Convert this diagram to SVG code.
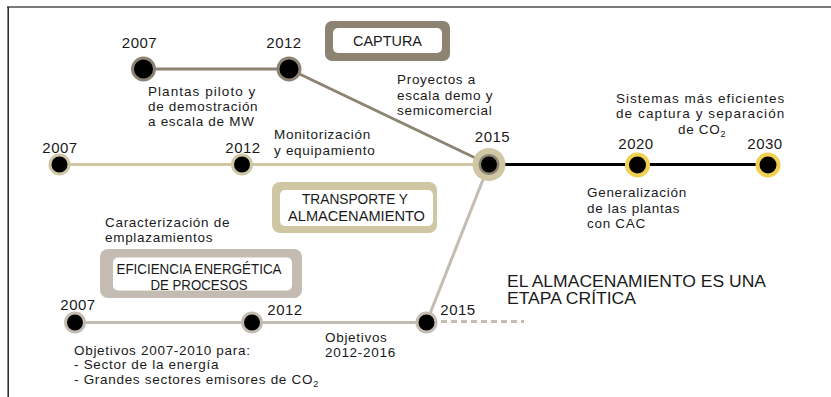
<svg xmlns="http://www.w3.org/2000/svg" width="831" height="397" viewBox="0 0 831 397">
<style>
text{font-family:"Liberation Sans",Arial,sans-serif;fill:#1a1a1a}
.yr{font-size:15px;letter-spacing:0.5px;text-anchor:middle}
.b{font-size:13.5px;letter-spacing:0.7px}
.t{font-size:15.5px;text-anchor:middle}
.big{font-size:16px}
.sub{font-size:9px}
.cap{stroke:#8c8373}
.tra{stroke:#cfc7a4}
.efi{stroke:#c4bcb2}
.node{fill:#000;stroke-width:3}
</style>
<rect width="831" height="397" fill="#fff"/>
<g id="frame">
<line x1="7" y1="7" x2="831" y2="7" stroke="#7a7a7a" stroke-width="2"/>
<line x1="8.2" y1="7" x2="8.2" y2="397" stroke="#222" stroke-width="1.5"/>
</g>
<g id="connectors" fill="none" stroke-width="3">
<line class="cap" x1="143.5" y1="69" x2="289" y2="69"/>
<line class="cap" x1="289" y1="69" x2="489" y2="164.5"/>
<line class="tra" x1="59.5" y1="164.5" x2="489" y2="164.5"/>
<line stroke="#000" x1="489" y1="164.5" x2="768" y2="164.5"/>
<line class="efi" x1="75" y1="322.5" x2="426.5" y2="322.5"/>
<line class="efi" x1="426.5" y1="322.5" x2="489" y2="164.5"/>
<line class="efi" x1="441" y1="321.5" x2="524" y2="321.5" stroke-dasharray="6 4"/>
</g>
<g id="box-captura">
<rect x="325" y="21" width="125" height="40" rx="7" fill="#8c8373"/>
<rect x="333" y="28" width="109" height="25" rx="5" fill="#fff"/>
<text class="t" x="387.5" y="46" textLength="69" lengthAdjust="spacingAndGlyphs">CAPTURA</text>
</g>
<g id="box-transporte">
<rect x="272" y="182" width="165" height="51" rx="8" fill="#cfc7a4"/>
<rect x="280" y="190" width="153" height="36" rx="5" fill="#fff"/>
<text class="t" x="355" y="204" textLength="106" lengthAdjust="spacingAndGlyphs">TRANSPORTE Y</text>
<text class="t" x="356.5" y="221" textLength="137" lengthAdjust="spacingAndGlyphs">ALMACENAMIENTO</text>
</g>
<g id="box-eficiencia">
<rect x="100" y="249" width="202" height="49" rx="8" fill="#c4bcb2"/>
<rect x="113" y="257.5" width="179" height="33" rx="5" fill="#fff"/>
<text class="t" x="199" y="274" textLength="165" lengthAdjust="spacingAndGlyphs">EFICIENCIA ENERGÉTICA</text>
<text class="t" x="199" y="290" textLength="97" lengthAdjust="spacingAndGlyphs">DE PROCESOS</text>
</g>
<g id="node-cap-2007">
<circle class="node cap" cx="143.5" cy="69" r="11"/>
<text class="yr" x="139.5" y="48">2007</text>
</g>
<g id="node-cap-2012">
<circle class="node cap" cx="289" cy="69" r="11"/>
<text class="yr" x="284" y="48">2012</text>
</g>
<g id="node-tra-2007">
<circle class="node tra" cx="59.5" cy="164.5" r="9.5"/>
<text class="yr" x="60" y="153">2007</text>
</g>
<g id="node-tra-2012">
<circle class="node tra" cx="242" cy="164.5" r="9.5"/>
<text class="yr" x="243" y="153">2012</text>
</g>
<g id="node-2015">
<circle cx="489" cy="164.5" r="16.5" fill="#cfc7a4"/>
<circle cx="489" cy="164.5" r="10.5" fill="#8c8373"/>
<circle cx="489" cy="164.5" r="8" fill="#000"/>
<text class="yr" x="492.5" y="141.5">2015</text>
</g>
<g id="node-2020">
<circle cx="637.5" cy="165" r="10.5" fill="#000" stroke="#f0d050" stroke-width="4"/>
<text class="yr" x="636" y="148.5">2020</text>
</g>
<g id="node-2030">
<circle cx="768" cy="165" r="10.5" fill="#000" stroke="#f0d050" stroke-width="4"/>
<text class="yr" x="765" y="148.5">2030</text>
</g>
<g id="node-efi-2007">
<circle class="node efi" cx="75" cy="322.5" r="9.5"/>
<text class="yr" x="78" y="310">2007</text>
</g>
<g id="node-efi-2012">
<circle class="node efi" cx="252" cy="322.5" r="9.5"/>
<text class="yr" x="285" y="315">2012</text>
</g>
<g id="node-efi-2015">
<circle class="node efi" cx="426.5" cy="322.5" r="9.5"/>
<text class="yr" x="458" y="315">2015</text>
</g>
<g id="labels">
<text class="b" x="148" y="95.5" textLength="108" lengthAdjust="spacing">Plantas piloto y</text>
<text class="b" x="148" y="111">de demostración</text>
<text class="b" x="148" y="126">a escala de MW</text>
<text class="b" x="397" y="84">Proyectos a</text>
<text class="b" x="397" y="99.5">escala demo y</text>
<text class="b" x="397" y="115">semicomercial</text>
<text class="b" x="616" y="102.5" textLength="169" lengthAdjust="spacing">Sistemas más eficientes</text>
<text class="b" x="616" y="118" textLength="169" lengthAdjust="spacing">de captura y separación</text>
<text class="b" x="678" y="133.5">de CO<tspan class="sub" dy="3">2</tspan></text>
<text class="b" x="274" y="138.5">Monitorización</text>
<text class="b" x="274" y="154.5">y equipamiento</text>
<text class="b" x="587" y="197">Generalización</text>
<text class="b" x="587" y="212.5">de las plantas</text>
<text class="b" x="587" y="228">con CAC</text>
<text class="b" x="105" y="226.5">Caracterización de</text>
<text class="b" x="105" y="241.5">emplazamientos</text>
<text class="b" x="325" y="341.5">Objetivos</text>
<text class="b" x="325" y="356.5">2012-2016</text>
<text class="b" x="74" y="355">Objetivos 2007-2010 para:</text>
<text class="b" x="74" y="369">- Sector de la energía</text>
<text class="b" x="74" y="383.5">- Grandes sectores emisores de CO<tspan class="sub" dy="3">2</tspan></text>
<text class="big" x="507" y="287" textLength="259" lengthAdjust="spacingAndGlyphs">EL ALMACENAMIENTO ES UNA</text>
<text class="big" x="507" y="304" textLength="129" lengthAdjust="spacingAndGlyphs">ETAPA CRÍTICA</text>
</g>
</svg>
